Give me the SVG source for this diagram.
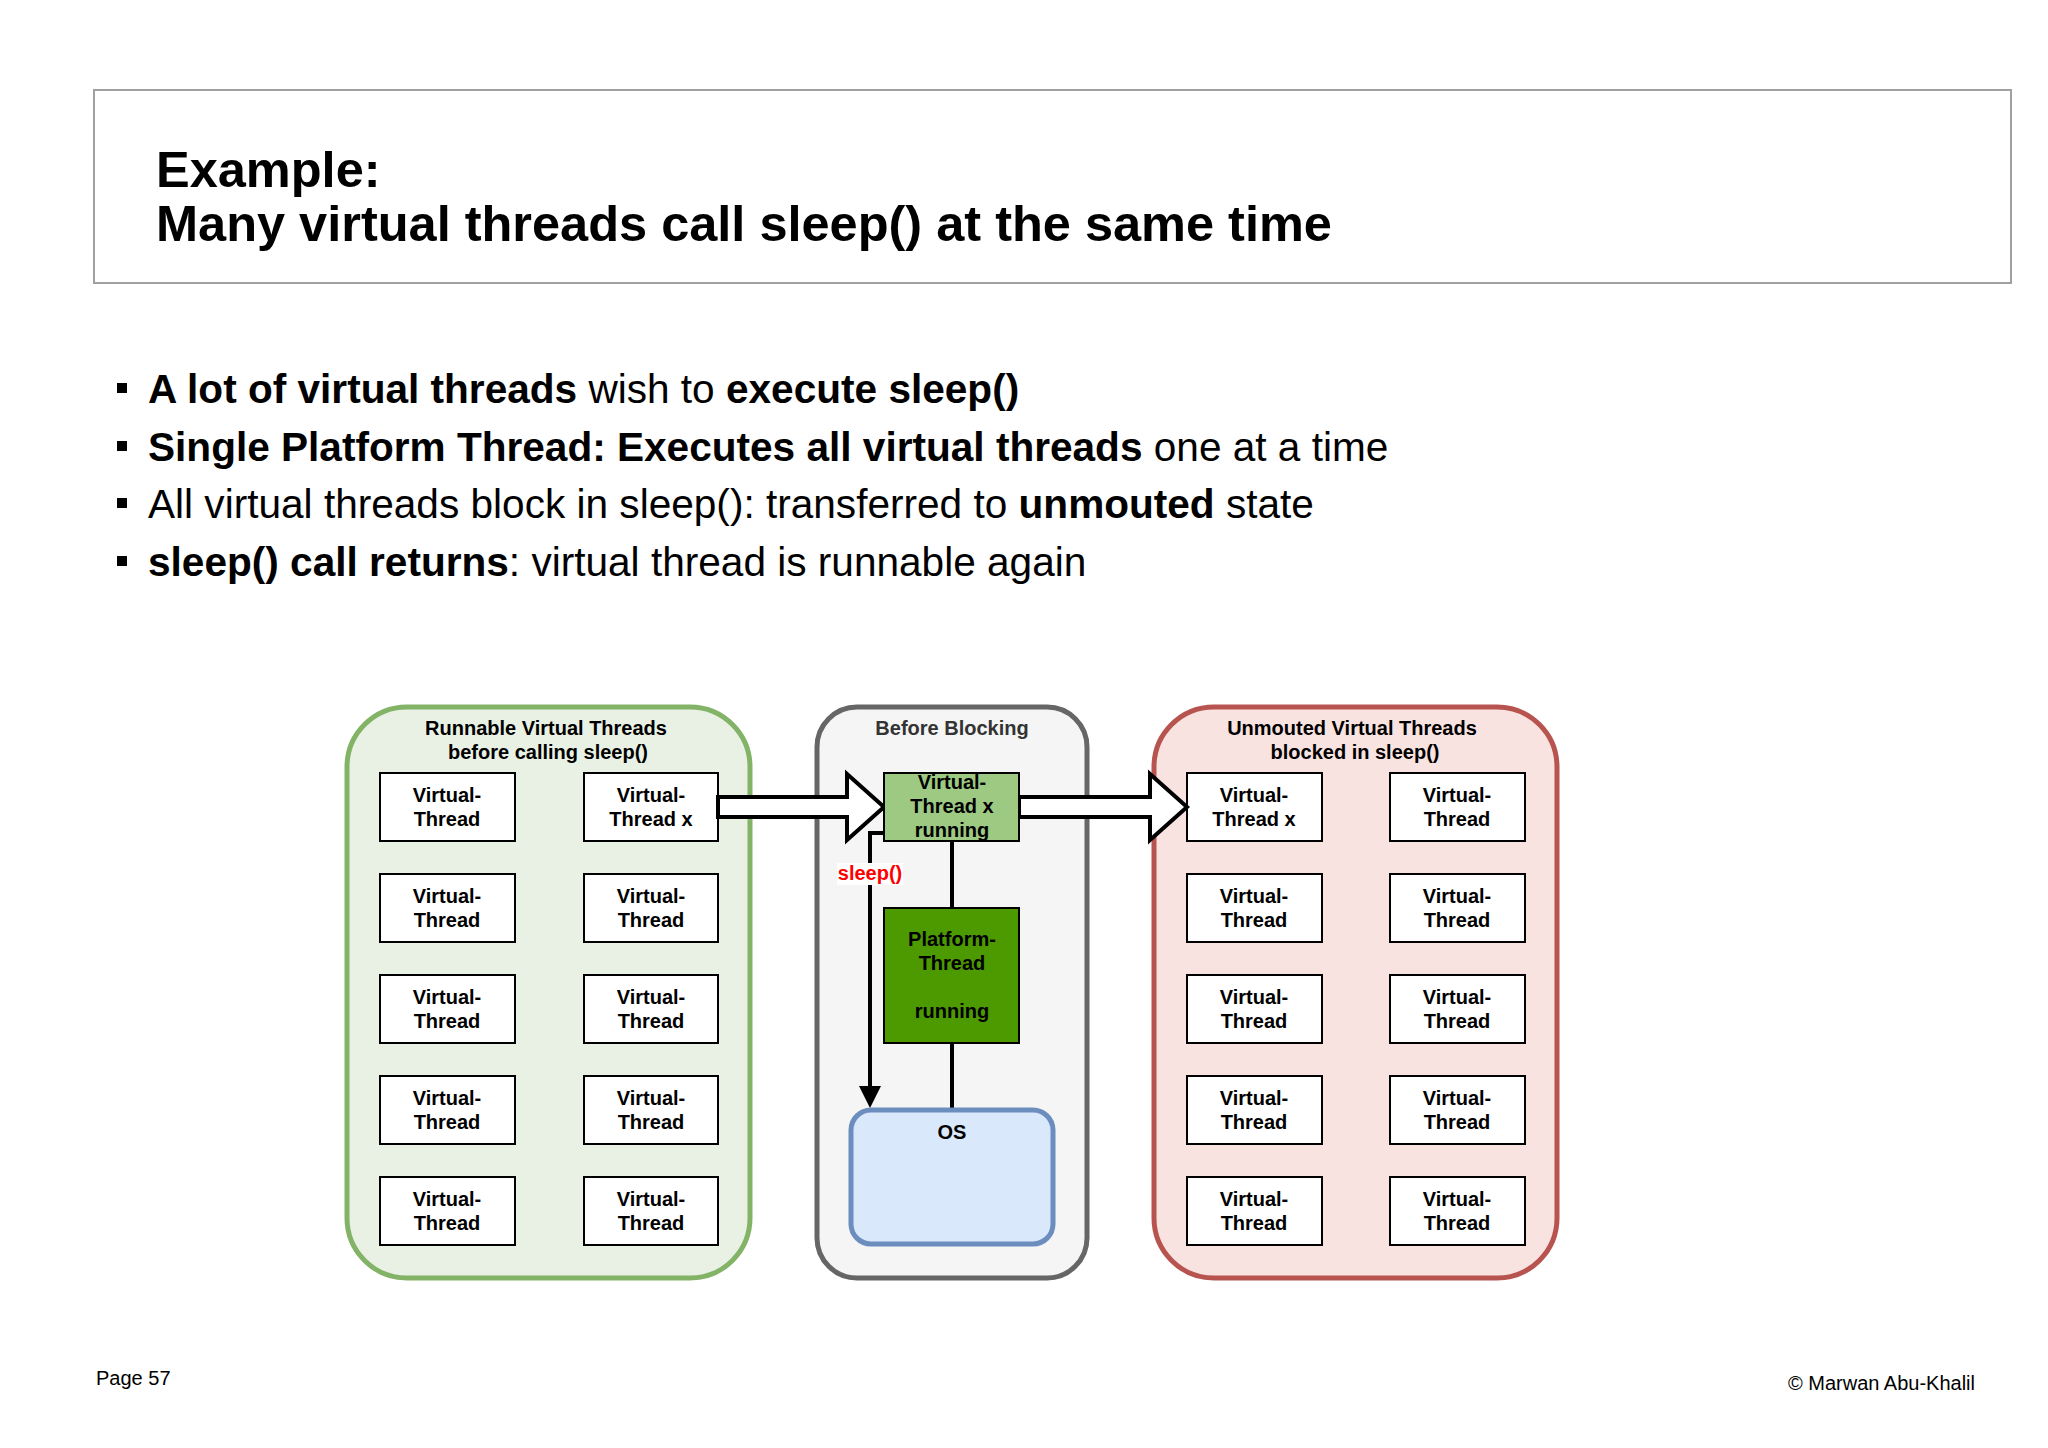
<svg xmlns="http://www.w3.org/2000/svg" width="2048" height="1448" viewBox="0 0 2048 1448">
<defs>
<style>
text{font-family:"Liberation Sans",Arial,Helvetica,sans-serif;fill:#000}
.b{font-weight:bold}
.vt{fill:#fff;stroke:#000;stroke-width:2}
.lbl{font-size:20px;font-weight:bold;text-anchor:middle}
.bul{font-size:40.6px}
.conn{fill:none;stroke:#000;stroke-width:4}
.hollow{fill:#fff;stroke:#000;stroke-width:4;stroke-linejoin:miter}
</style>
<marker id="tri" viewBox="0 0 22 22" refX="2" refY="11" markerWidth="22" markerHeight="22" markerUnits="userSpaceOnUse" orient="auto">
<path d="M0 0 L22 11 L0 22 Z" fill="#000"/>
</marker>
</defs>
<rect width="2048" height="1448" fill="#fff"/>

<g id="header">
<rect x="94" y="90" width="1917" height="193" fill="#fff" stroke="#a0a0a0" stroke-width="2"/>
<text class="b" x="156" y="187" font-size="50.5">Example:</text>
<text class="b" x="156" y="241" font-size="50.5">Many virtual threads call sleep() at the same time</text>
</g>

<g id="bullets">
<rect x="117" y="383" width="10" height="10"/>
<text class="bul" x="148" y="403"><tspan class="b">A lot of virtual threads</tspan> wish to <tspan class="b">execute sleep()</tspan></text>
<rect x="117" y="441" width="10" height="10"/>
<text class="bul" x="148" y="461"><tspan class="b">Single Platform Thread: Executes all virtual threads</tspan> one at a time</text>
<rect x="117" y="498" width="10" height="10"/>
<text class="bul" x="148" y="518">All virtual threads block in sleep(): transferred to <tspan class="b">unmouted</tspan> state</text>
<rect x="117" y="556" width="10" height="10"/>
<text class="bul" x="148" y="576"><tspan class="b">sleep() call returns</tspan>: virtual thread is runnable again</text>
</g>

<g id="runnable-container">
<rect x="347" y="707" width="403" height="571" rx="60" fill="#e9f1e5" stroke="#82b366" stroke-width="5"/>
<text class="lbl" x="546" y="735">Runnable Virtual Threads</text>
<text class="lbl" x="548" y="759">before calling sleep()</text>
</g>
<g id="blocking-container">
<rect x="817" y="707" width="270" height="571" rx="40" fill="#f5f5f5" stroke="#666666" stroke-width="5"/>
<text class="lbl" x="952" y="735" style="fill:#333">Before Blocking</text>
</g>
<g id="unmounted-container">
<rect x="1154" y="707" width="403" height="571" rx="60" fill="#f9e3e1" stroke="#b85450" stroke-width="5"/>
<text class="lbl" x="1352" y="735">Unmouted Virtual Threads</text>
<text class="lbl" x="1355" y="759">blocked in sleep()</text>
</g>

<g id="runnable-vts">
<g id="r1"><rect class="vt" x="380" y="773" width="135" height="68"/><text class="lbl" x="447" y="802">Virtual-</text><text class="lbl" x="447" y="826">Thread</text></g>
<g id="r2"><rect class="vt" x="584" y="773" width="134" height="68"/><text class="lbl" x="651" y="802">Virtual-</text><text class="lbl" x="651" y="826">Thread x</text></g>
<g id="r3"><rect class="vt" x="380" y="874" width="135" height="68"/><text class="lbl" x="447" y="903">Virtual-</text><text class="lbl" x="447" y="927">Thread</text></g>
<g id="r4"><rect class="vt" x="584" y="874" width="134" height="68"/><text class="lbl" x="651" y="903">Virtual-</text><text class="lbl" x="651" y="927">Thread</text></g>
<g id="r5"><rect class="vt" x="380" y="975" width="135" height="68"/><text class="lbl" x="447" y="1004">Virtual-</text><text class="lbl" x="447" y="1028">Thread</text></g>
<g id="r6"><rect class="vt" x="584" y="975" width="134" height="68"/><text class="lbl" x="651" y="1004">Virtual-</text><text class="lbl" x="651" y="1028">Thread</text></g>
<g id="r7"><rect class="vt" x="380" y="1076" width="135" height="68"/><text class="lbl" x="447" y="1105">Virtual-</text><text class="lbl" x="447" y="1129">Thread</text></g>
<g id="r8"><rect class="vt" x="584" y="1076" width="134" height="68"/><text class="lbl" x="651" y="1105">Virtual-</text><text class="lbl" x="651" y="1129">Thread</text></g>
<g id="r9"><rect class="vt" x="380" y="1177" width="135" height="68"/><text class="lbl" x="447" y="1206">Virtual-</text><text class="lbl" x="447" y="1230">Thread</text></g>
<g id="r10"><rect class="vt" x="584" y="1177" width="134" height="68"/><text class="lbl" x="651" y="1206">Virtual-</text><text class="lbl" x="651" y="1230">Thread</text></g>
</g>

<g id="unmounted-vts">
<g id="u1"><rect class="vt" x="1187" y="773" width="135" height="68"/><text class="lbl" x="1254" y="802">Virtual-</text><text class="lbl" x="1254" y="826">Thread x</text></g>
<g id="u2"><rect class="vt" x="1390" y="773" width="135" height="68"/><text class="lbl" x="1457" y="802">Virtual-</text><text class="lbl" x="1457" y="826">Thread</text></g>
<g id="u3"><rect class="vt" x="1187" y="874" width="135" height="68"/><text class="lbl" x="1254" y="903">Virtual-</text><text class="lbl" x="1254" y="927">Thread</text></g>
<g id="u4"><rect class="vt" x="1390" y="874" width="135" height="68"/><text class="lbl" x="1457" y="903">Virtual-</text><text class="lbl" x="1457" y="927">Thread</text></g>
<g id="u5"><rect class="vt" x="1187" y="975" width="135" height="68"/><text class="lbl" x="1254" y="1004">Virtual-</text><text class="lbl" x="1254" y="1028">Thread</text></g>
<g id="u6"><rect class="vt" x="1390" y="975" width="135" height="68"/><text class="lbl" x="1457" y="1004">Virtual-</text><text class="lbl" x="1457" y="1028">Thread</text></g>
<g id="u7"><rect class="vt" x="1187" y="1076" width="135" height="68"/><text class="lbl" x="1254" y="1105">Virtual-</text><text class="lbl" x="1254" y="1129">Thread</text></g>
<g id="u8"><rect class="vt" x="1390" y="1076" width="135" height="68"/><text class="lbl" x="1457" y="1105">Virtual-</text><text class="lbl" x="1457" y="1129">Thread</text></g>
<g id="u9"><rect class="vt" x="1187" y="1177" width="135" height="68"/><text class="lbl" x="1254" y="1206">Virtual-</text><text class="lbl" x="1254" y="1230">Thread</text></g>
<g id="u10"><rect class="vt" x="1390" y="1177" width="135" height="68"/><text class="lbl" x="1457" y="1206">Virtual-</text><text class="lbl" x="1457" y="1230">Thread</text></g>
</g>

<g id="connectors">
<line class="conn" x1="952" y1="841" x2="952" y2="908"/>
<line class="conn" x1="952" y1="1043" x2="952" y2="1108"/>
<path class="conn" d="M884 833 L870 833 L870 1088" marker-end="url(#tri)"/>
<polygon class="hollow" points="718,797 847,797 847,774 884,807 847,840 847,817 718,817"/>
<polygon class="hollow" points="1019,797 1150,797 1150,774 1187,807 1150,840 1150,817 1019,817"/>
<rect x="837" y="863" width="66" height="22" fill="#fff"/>
<text class="lbl" x="870" y="880" style="fill:#ff0000">sleep()</text>
</g>

<g id="vt-running">
<rect x="884" y="773" width="135" height="68" fill="#9dc983" stroke="#000" stroke-width="2"/>
<text class="lbl" x="952" y="789">Virtual-</text>
<text class="lbl" x="952" y="813">Thread x</text>
<text class="lbl" x="952" y="837">running</text>
</g>
<g id="platform-thread">
<rect x="884" y="908" width="135" height="135" fill="#4d9900" stroke="#000" stroke-width="2"/>
<text class="lbl" x="952" y="946">Platform-</text>
<text class="lbl" x="952" y="970">Thread</text>
<text class="lbl" x="952" y="1018">running</text>
</g>
<g id="os">
<rect x="851" y="1110" width="202" height="134" rx="20" fill="#dae8fc" stroke="#6c8ebf" stroke-width="5"/>
<text class="lbl" x="952" y="1139">OS</text>
</g>

<g id="footer">
<text x="96" y="1385" font-size="20">Page 57</text>
<text x="1975" y="1390" font-size="20" text-anchor="end">© Marwan Abu-Khalil</text>
</g>
</svg>
